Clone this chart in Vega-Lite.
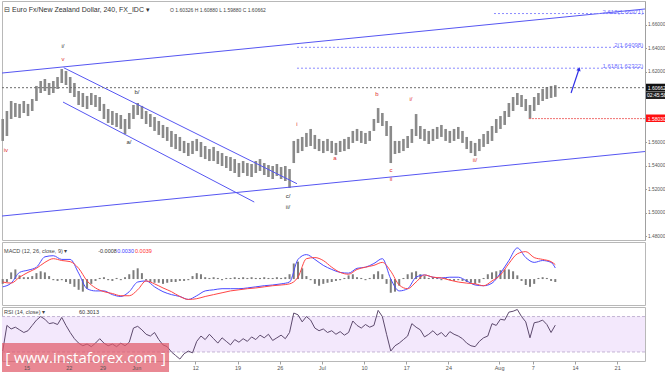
{
"$schema": "https://vega.github.io/schema/vega-lite/v6.json",
"padding": 0,
"background": "white",
"spacing": 2,
"bounds": "flush",
"resolve": {"scale": {"x": "independent", "y": "independent"}},
"config": {
  "view": {"stroke": "#b8b8b8"},
  "axis": {"grid": false, "domainColor": "#a0a0a0", "tickColor": "#a0a0a0", "labelColor": "#555555", "labelFont": "Liberation Sans", "labelFontSize": 4.8, "tickSize": 1.5, "labelPadding": 1},
  "text": {"font": "Liberation Sans"}
},
"datasets": {
"px": [
{"t":-17,"p":1.5613,"p2":1.5800,"h":-0.0013,"r":31},
{"t":-14,"p":1.5655,"p2":1.5868,"h":-0.0008,"r":60},
{"t":-11,"p":1.5800,"p2":1.5953,"h":0.0018,"r":56},
{"t":-8,"p":1.5817,"p2":1.5936,"h":0.0026,"r":58},
{"t":-5,"p":1.5808,"p2":1.5928,"h":0.0010,"r":55},
{"t":-2,"p":1.5851,"p2":1.5953,"h":0.0005,"r":52},
{"t":1,"p":1.5825,"p2":1.5928,"h":0.0005,"r":54},
{"t":4,"p":1.5868,"p2":1.5970,"h":0.0008,"r":60},
{"t":7,"p":1.5953,"p2":1.6081,"h":0.0016,"r":66},
{"t":10,"p":1.6021,"p2":1.6123,"h":0.0021,"r":70},
{"t":13,"p":1.6038,"p2":1.6140,"h":0.0018,"r":67},
{"t":16,"p":1.6004,"p2":1.6106,"h":0.0008,"r":62},
{"t":19,"p":1.6021,"p2":1.6123,"h":-0.0003,"r":63},
{"t":22,"p":1.6055,"p2":1.6157,"h":-0.0005,"r":61},
{"t":25,"p":1.6106,"p2":1.6225,"h":-0.0003,"r":69},
{"t":28,"p":1.6089,"p2":1.6208,"h":-0.0008,"r":60},
{"t":31,"p":1.6021,"p2":1.6157,"h":-0.0013,"r":52},
{"t":34,"p":1.5987,"p2":1.6106,"h":-0.0021,"r":45},
{"t":37,"p":1.5919,"p2":1.6038,"h":-0.0029,"r":40},
{"t":40,"p":1.5902,"p2":1.6021,"h":-0.0034,"r":37},
{"t":43,"p":1.5885,"p2":1.5996,"h":-0.0026,"r":39},
{"t":46,"p":1.5919,"p2":1.6021,"h":-0.0013,"r":36},
{"t":49,"p":1.5902,"p2":1.6004,"h":-0.0005,"r":40},
{"t":52,"p":1.5868,"p2":1.5987,"h":0.0003,"r":45},
{"t":55,"p":1.5800,"p2":1.5928,"h":0.0005,"r":40},
{"t":58,"p":1.5766,"p2":1.5885,"h":-0.0003,"r":37},
{"t":61,"p":1.5749,"p2":1.5868,"h":-0.0005,"r":39},
{"t":64,"p":1.5732,"p2":1.5851,"h":0.0003,"r":36},
{"t":67,"p":1.5715,"p2":1.5834,"h":-0.0003,"r":40},
{"t":70,"p":1.5672,"p2":1.5800,"h":0.0005,"r":37},
{"t":73,"p":1.5715,"p2":1.5851,"h":0.0013,"r":41},
{"t":76,"p":1.5800,"p2":1.5919,"h":0.0024,"r":57},
{"t":79,"p":1.5834,"p2":1.5936,"h":0.0029,"r":59},
{"t":82,"p":1.5800,"p2":1.5911,"h":0.0016,"r":55},
{"t":85,"p":1.5757,"p2":1.5868,"h":-0.0003,"r":50},
{"t":88,"p":1.5732,"p2":1.5842,"h":-0.0008,"r":48},
{"t":91,"p":1.5698,"p2":1.5817,"h":-0.0010,"r":52},
{"t":94,"p":1.5664,"p2":1.5783,"h":-0.0010,"r":44},
{"t":97,"p":1.5638,"p2":1.5749,"h":-0.0013,"r":38},
{"t":100,"p":1.5613,"p2":1.5732,"h":-0.0010,"r":36},
{"t":103,"p":1.5562,"p2":1.5698,"h":-0.0008,"r":30},
{"t":106,"p":1.5544,"p2":1.5672,"h":-0.0008,"r":26},
{"t":109,"p":1.5527,"p2":1.5647,"h":-0.0005,"r":22},
{"t":112,"p":1.5510,"p2":1.5613,"h":-0.0005,"r":28},
{"t":115,"p":1.5485,"p2":1.5596,"h":-0.0003,"r":31},
{"t":118,"p":1.5502,"p2":1.5613,"h":0.0008,"r":29},
{"t":121,"p":1.5527,"p2":1.5630,"h":0.0016,"r":42},
{"t":124,"p":1.5476,"p2":1.5604,"h":0.0013,"r":48},
{"t":127,"p":1.5459,"p2":1.5570,"h":0.0005,"r":44},
{"t":130,"p":1.5442,"p2":1.5544,"h":0.0003,"r":50},
{"t":133,"p":1.5442,"p2":1.5562,"h":0.0005,"r":45},
{"t":136,"p":1.5417,"p2":1.5527,"h":0.0003,"r":40},
{"t":139,"p":1.5400,"p2":1.5510,"h":-0.0003,"r":46},
{"t":142,"p":1.5383,"p2":1.5485,"h":0.0003,"r":42},
{"t":145,"p":1.5357,"p2":1.5476,"h":0.0003,"r":38},
{"t":148,"p":1.5340,"p2":1.5459,"h":0.0005,"r":44},
{"t":151,"p":1.5306,"p2":1.5425,"h":0.0003,"r":41},
{"t":154,"p":1.5340,"p2":1.5442,"h":0.0005,"r":45},
{"t":157,"p":1.5315,"p2":1.5425,"h":0.0003,"r":42},
{"t":160,"p":1.5306,"p2":1.5417,"h":0.0005,"r":47},
{"t":163,"p":1.5340,"p2":1.5442,"h":0.0003,"r":44},
{"t":166,"p":1.5357,"p2":1.5459,"h":0.0003,"r":49},
{"t":169,"p":1.5323,"p2":1.5425,"h":0.0005,"r":46},
{"t":172,"p":1.5306,"p2":1.5408,"h":0.0003,"r":50},
{"t":175,"p":1.5289,"p2":1.5400,"h":0.0003,"r":43},
{"t":178,"p":1.5315,"p2":1.5417,"h":0.0005,"r":46},
{"t":181,"p":1.5289,"p2":1.5391,"h":0.0003,"r":49},
{"t":184,"p":1.5272,"p2":1.5400,"h":0.0005,"r":45},
{"t":187,"p":1.5213,"p2":1.5374,"h":0.0013,"r":52},
{"t":190,"p":1.5425,"p2":1.5613,"h":0.0042,"r":74},
{"t":193,"p":1.5510,"p2":1.5630,"h":0.0047,"r":72},
{"t":196,"p":1.5527,"p2":1.5647,"h":0.0029,"r":64},
{"t":199,"p":1.5562,"p2":1.5681,"h":0.0008,"r":70},
{"t":202,"p":1.5570,"p2":1.5715,"h":-0.0003,"r":66},
{"t":205,"p":1.5544,"p2":1.5664,"h":-0.0013,"r":57},
{"t":208,"p":1.5527,"p2":1.5630,"h":-0.0018,"r":54},
{"t":211,"p":1.5510,"p2":1.5613,"h":-0.0013,"r":56},
{"t":214,"p":1.5527,"p2":1.5630,"h":-0.0010,"r":52},
{"t":217,"p":1.5510,"p2":1.5613,"h":-0.0008,"r":54},
{"t":220,"p":1.5493,"p2":1.5596,"h":-0.0005,"r":50},
{"t":223,"p":1.5519,"p2":1.5613,"h":-0.0003,"r":53},
{"t":226,"p":1.5527,"p2":1.5630,"h":0.0003,"r":49},
{"t":229,"p":1.5544,"p2":1.5647,"h":0.0010,"r":52},
{"t":232,"p":1.5596,"p2":1.5698,"h":0.0013,"r":65},
{"t":235,"p":1.5613,"p2":1.5715,"h":0.0005,"r":60},
{"t":238,"p":1.5596,"p2":1.5698,"h":0.0003,"r":57},
{"t":241,"p":1.5587,"p2":1.5681,"h":-0.0003,"r":61},
{"t":244,"p":1.5613,"p2":1.5698,"h":0.0003,"r":58},
{"t":247,"p":1.5698,"p2":1.5800,"h":0.0013,"r":60},
{"t":250,"p":1.5766,"p2":1.5893,"h":0.0021,"r":77},
{"t":253,"p":1.5740,"p2":1.5851,"h":0.0013,"r":70},
{"t":256,"p":1.5655,"p2":1.5783,"h":-0.0013,"r":50},
{"t":259,"p":1.5425,"p2":1.5740,"h":-0.0037,"r":31},
{"t":262,"p":1.5502,"p2":1.5613,"h":-0.0034,"r":37},
{"t":265,"p":1.5510,"p2":1.5613,"h":-0.0018,"r":40},
{"t":268,"p":1.5527,"p2":1.5630,"h":0.0003,"r":44},
{"t":271,"p":1.5553,"p2":1.5655,"h":0.0013,"r":48},
{"t":274,"p":1.5596,"p2":1.5715,"h":0.0018,"r":62},
{"t":277,"p":1.5655,"p2":1.5842,"h":0.0021,"r":58},
{"t":280,"p":1.5630,"p2":1.5740,"h":0.0013,"r":55},
{"t":283,"p":1.5613,"p2":1.5715,"h":0.0008,"r":47},
{"t":286,"p":1.5587,"p2":1.5698,"h":0.0003,"r":50},
{"t":289,"p":1.5613,"p2":1.5715,"h":0.0005,"r":54},
{"t":292,"p":1.5630,"p2":1.5732,"h":0.0003,"r":49},
{"t":295,"p":1.5647,"p2":1.5749,"h":-0.0003,"r":52},
{"t":298,"p":1.5613,"p2":1.5715,"h":0.0003,"r":47},
{"t":301,"p":1.5596,"p2":1.5698,"h":-0.0003,"r":53},
{"t":304,"p":1.5613,"p2":1.5715,"h":-0.0005,"r":50},
{"t":307,"p":1.5630,"p2":1.5732,"h":-0.0003,"r":48},
{"t":310,"p":1.5596,"p2":1.5698,"h":-0.0005,"r":45},
{"t":313,"p":1.5544,"p2":1.5647,"h":-0.0008,"r":40},
{"t":316,"p":1.5510,"p2":1.5613,"h":-0.0010,"r":37},
{"t":319,"p":1.5485,"p2":1.5596,"h":-0.0013,"r":36},
{"t":322,"p":1.5527,"p2":1.5630,"h":-0.0010,"r":42},
{"t":325,"p":1.5562,"p2":1.5672,"h":0.0003,"r":46},
{"t":328,"p":1.5587,"p2":1.5698,"h":0.0013,"r":48},
{"t":331,"p":1.5613,"p2":1.5740,"h":0.0018,"r":62},
{"t":334,"p":1.5681,"p2":1.5800,"h":0.0021,"r":60},
{"t":337,"p":1.5715,"p2":1.5825,"h":0.0024,"r":67},
{"t":340,"p":1.5749,"p2":1.5868,"h":0.0026,"r":66},
{"t":343,"p":1.5817,"p2":1.5936,"h":0.0026,"r":75},
{"t":346,"p":1.5868,"p2":1.5987,"h":0.0021,"r":76},
{"t":349,"p":1.5919,"p2":1.6021,"h":0.0010,"r":78},
{"t":352,"p":1.5902,"p2":1.6004,"h":-0.0005,"r":70},
{"t":355,"p":1.5868,"p2":1.5970,"h":-0.0016,"r":64},
{"t":358,"p":1.5800,"p2":1.5919,"h":-0.0021,"r":46},
{"t":361,"p":1.5868,"p2":1.5987,"h":-0.0013,"r":63},
{"t":364,"p":1.5919,"p2":1.6021,"h":0.0003,"r":64},
{"t":367,"p":1.5953,"p2":1.6055,"h":0.0005,"r":66},
{"t":370,"p":1.5970,"p2":1.6072,"h":0.0003,"r":61},
{"t":373,"p":1.5979,"p2":1.6081,"h":-0.0005,"r":52},
{"t":376,"p":1.5988,"p2":1.6088,"h":-0.0008,"r":60.3}
],
"mc": [
{"t":-17,"m":-0.0021,"s":-0.0008},{"t":-11,"m":-0.0011,"s":-0.0011},{"t":-5,"m":0.0018,"s":0.0005},
{"t":1,"m":0.0024,"s":0.0018},{"t":7,"m":0.0032,"s":0.0029},{"t":13,"m":0.0060,"s":0.0045},
{"t":19,"m":0.0063,"s":0.0055},{"t":25,"m":0.0053,"s":0.0050},{"t":31,"m":0.0053,"s":0.0047},
{"t":37,"m":0.0016,"s":0.0029},{"t":43,"m":-0.0026,"s":-0.0005},{"t":49,"m":-0.0032,"s":-0.0024},
{"t":55,"m":-0.0032,"s":-0.0034},{"t":61,"m":-0.0042,"s":-0.0039},{"t":67,"m":-0.0047,"s":-0.0045},
{"t":73,"m":-0.0034,"s":-0.0045},{"t":79,"m":-0.0008,"s":-0.0029},{"t":85,"m":-0.0005,"s":-0.0005},
{"t":91,"m":-0.0021,"s":-0.0013},{"t":97,"m":-0.0034,"s":-0.0024},{"t":103,"m":-0.0042,"s":-0.0034},
{"t":109,"m":-0.0047,"s":-0.0047},{"t":115,"m":-0.0055,"s":-0.0055},{"t":121,"m":-0.0045,"s":-0.0053},
{"t":127,"m":-0.0032,"s":-0.0047},{"t":133,"m":-0.0029,"s":-0.0042},{"t":139,"m":-0.0026,"s":-0.0037},
{"t":145,"m":-0.0026,"s":-0.0032},{"t":151,"m":-0.0026,"s":-0.0029},{"t":157,"m":-0.0024,"s":-0.0026},
{"t":163,"m":-0.0021,"s":-0.0024},{"t":169,"m":-0.0018,"s":-0.0021},{"t":175,"m":-0.0016,"s":-0.0018},
{"t":181,"m":-0.0013,"s":-0.0016},{"t":187,"m":-0.0008,"s":-0.0013},{"t":193,"m":0.0053,"s":0.0005},
{"t":199,"m":0.0066,"s":0.0055},{"t":205,"m":0.0053,"s":0.0058},{"t":211,"m":0.0037,"s":0.0050},
{"t":217,"m":0.0026,"s":0.0032},{"t":223,"m":0.0018,"s":0.0018},{"t":229,"m":0.0016,"s":0.0013},
{"t":235,"m":0.0029,"s":0.0026},{"t":241,"m":0.0032,"s":0.0032},{"t":247,"m":0.0042,"s":0.0037},
{"t":253,"m":0.0055,"s":0.0045},{"t":259,"m":0.0000,"s":0.0021},{"t":265,"m":-0.0032,"s":-0.0016},
{"t":271,"m":-0.0026,"s":-0.0026},{"t":277,"m":0.0005,"s":-0.0008},{"t":283,"m":0.0011,"s":0.0011},
{"t":289,"m":0.0005,"s":0.0005},{"t":295,"m":0.0003,"s":0.0003},{"t":301,"m":0.0005,"s":-0.0003},
{"t":307,"m":0.0005,"s":-0.0008},{"t":313,"m":-0.0005,"s":-0.0011},{"t":319,"m":-0.0016,"s":-0.0013},
{"t":325,"m":-0.0018,"s":-0.0018},{"t":331,"m":-0.0011,"s":-0.0005},{"t":337,"m":0.0016,"s":0.0011},
{"t":343,"m":0.0050,"s":0.0042},{"t":349,"m":0.0084,"s":0.0068},{"t":355,"m":0.0058,"s":0.0074},
{"t":361,"m":0.0045,"s":0.0058},{"t":367,"m":0.0050,"s":0.0053},{"t":373,"m":0.0045,"s":0.0047},
{"t":376,"m":0.0030,"s":0.0039}
],
"lines": [
{"k":"ch","t":-17.5,"p":1.6191,"t2":439.8,"p2":1.6736},
{"k":"ch","t":-17.5,"p":1.4974,"t2":439.8,"p2":1.5523},
{"k":"ch","t":26.4,"p":1.6236,"t2":192.3,"p2":1.5249},
{"k":"ch","t":25.9,"p":1.5944,"t2":161.9,"p2":1.5093},
{"k":"fib","t":332.4,"p":1.66971,"t2":439.8,"p2":1.66971},
{"k":"fib","t":192.3,"p":1.64098,"t2":439.8,"p2":1.64098},
{"k":"fib","t":192.3,"p":1.62322,"t2":439.8,"p2":1.62322},
{"k":"cur","t":-17.5,"p":1.60662,"t2":439.8,"p2":1.60662},
{"k":"red","t":357.3,"p":1.5803,"t2":439.8,"p2":1.5803},
{"k":"arrow","t":387.2,"p":1.6021,"t2":392.9,"p2":1.6225}
],
"wl": [
{"t":25.9,"p":1.6421,"txt":"i/","c":"k"},
{"t":25.9,"p":1.6310,"txt":"v","c":"r"},
{"t":78.5,"p":1.6030,"txt":"b/","c":"k"},
{"t":72.8,"p":1.5604,"txt":"a/","c":"k"},
{"t":-14.7,"p":1.5536,"txt":"iv","c":"r"},
{"t":185.9,"p":1.5145,"txt":"c/","c":"k"},
{"t":185.9,"p":1.5051,"txt":"ii/","c":"k"},
{"t":192.3,"p":1.5757,"txt":"i","c":"r"},
{"t":219.3,"p":1.5468,"txt":"a","c":"r"},
{"t":249.2,"p":1.6013,"txt":"b","c":"r"},
{"t":259.2,"p":1.5366,"txt":"c","c":"r"},
{"t":259.2,"p":1.5289,"txt":"ii","c":"r"},
{"t":273.4,"p":1.5970,"txt":"i/","c":"r"},
{"t":318.9,"p":1.5451,"txt":"ii/","c":"r"}
],
"box": [
{"t":440.5,"t2":456,"p":1.6036,"p2":1.6100,"tc":448.2,"pc":1.60662,"f":"#111111","txt":"1.60662"},
{"t":440.5,"t2":456,"p":1.5970,"p2":1.6034,"tc":448.2,"pc":1.6002,"f":"#222222","txt":"02:45:58"},
{"t":440.5,"t2":456,"p":1.5774,"p2":1.5838,"tc":448.2,"pc":1.5803,"f":"#ff1010","txt":"1.58030"}
]
},
"vconcat": [
{
 "width": 643, "height": 239,
 "encoding": {
   "x": {"field": "t", "type": "quantitative", "scale": {"domain": [-17.5, 439.8], "nice": false, "zero": false}, "axis": null},
   "y": {"field": "p", "type": "quantitative", "scale": {"domain": [1.477, 1.6804], "nice": false, "zero": false}, "axis": {"orient": "right", "values": [1.48, 1.5, 1.52, 1.54, 1.56, 1.62, 1.64, 1.66], "format": ".5f", "title": null}}
 },
 "layer": [
  {"data": {"name": "px"}, "mark": {"type": "rule", "color": "#8a8a8a", "strokeWidth": 2.6}, "encoding": {"y2": {"field": "p2"}}},
  {"data": {"name": "lines"}, "transform": [{"filter": "datum.k == 'ch'"}], "mark": {"type": "rule", "color": "#5656f2", "strokeWidth": 1, "clip": true}, "encoding": {"x2": {"field": "t2"}, "y2": {"field": "p2"}}},
  {"data": {"name": "lines"}, "transform": [{"filter": "datum.k == 'fib'"}], "mark": {"type": "rule", "color": "#8a8aff", "strokeWidth": 1, "strokeDash": [2, 2]}, "encoding": {"x2": {"field": "t2"}, "y2": {"field": "p2"}}},
  {"data": {"name": "lines"}, "transform": [{"filter": "datum.k == 'cur'"}], "mark": {"type": "rule", "color": "#6a6a6a", "strokeWidth": 1, "strokeDash": [2, 2]}, "encoding": {"x2": {"field": "t2"}, "y2": {"field": "p2"}}},
  {"data": {"name": "lines"}, "transform": [{"filter": "datum.k == 'red'"}], "mark": {"type": "rule", "color": "#f07070", "strokeWidth": 1, "strokeDash": [2, 1]}, "encoding": {"x2": {"field": "t2"}, "y2": {"field": "p2"}}},
  {"data": {"name": "lines"}, "transform": [{"filter": "datum.k == 'arrow'"}], "mark": {"type": "rule", "color": "#3030e6", "strokeWidth": 1.2}, "encoding": {"x2": {"field": "t2"}, "y2": {"field": "p2"}}},
  {"data": {"values": [{"t": 392.9, "p": 1.6225}]}, "mark": {"type": "point", "shape": "triangle-up", "filled": true, "color": "#3030e6", "size": 20, "angle": 18, "opacity": 1}},
  {"data": {"values": [{"t": 438.5, "p": 1.66971, "txt": "2.618(1.66971)"}, {"t": 438.5, "p": 1.64098, "txt": "2(1.64098)"}, {"t": 438.5, "p": 1.62322, "txt": "1.618(1.62322)"}]}, "mark": {"type": "text", "align": "right", "baseline": "bottom", "dy": 1, "fontSize": 6, "color": "#6f6fff"}, "encoding": {"text": {"field": "txt"}}},
  {"data": {"name": "wl"}, "mark": {"type": "text", "fontSize": 6, "baseline": "middle", "align": "center"}, "encoding": {"text": {"field": "txt"}, "color": {"field": "c", "type": "nominal", "scale": {"domain": ["r", "k"], "range": ["#e02c2c", "#333333"]}, "legend": null}}},
  {"data": {"values": [{"t": -16, "p": 1.6727, "txt": "⊟ Euro Fx/New Zealand Dollar, 240, FX_IDC ▾"}]}, "mark": {"type": "text", "align": "left", "baseline": "middle", "fontSize": 7, "color": "#333333"}, "encoding": {"text": {"field": "txt"}}},
  {"data": {"values": [{"t": 102, "p": 1.6727, "txt": "O 1.60326  H 1.60880  L 1.59880  C 1.60662"}]}, "mark": {"type": "text", "align": "left", "baseline": "middle", "fontSize": 5, "color": "#444444"}, "encoding": {"text": {"field": "txt"}}},
  {"data": {"name": "box"}, "mark": {"type": "rect"}, "encoding": {"x2": {"field": "t2"}, "y2": {"field": "p2"}, "fill": {"field": "f", "type": "nominal", "scale": null}}},
  {"data": {"name": "box"}, "mark": {"type": "text", "color": "white", "fontSize": 5, "baseline": "middle", "align": "center"}, "encoding": {"x": {"field": "tc", "type": "quantitative", "scale": {"domain": [-17.5, 439.8], "nice": false, "zero": false}}, "y": {"field": "pc", "type": "quantitative", "scale": {"domain": [1.477, 1.6804], "nice": false, "zero": false}}, "text": {"field": "txt"}}}
 ]
},
{
 "width": 643, "height": 63,
 "encoding": {
   "x": {"field": "t", "type": "quantitative", "scale": {"domain": [-17.5, 439.8], "nice": false, "zero": false}, "axis": null}
 },
 "layer": [
  {"data": {"name": "px"}, "mark": {"type": "rule", "color": "#7c7c7c", "strokeWidth": 2}, "encoding": {"y": {"field": "h", "type": "quantitative", "scale": {"domain": [-0.007, 0.01], "nice": false, "zero": false}, "axis": {"orient": "right", "values": [-0.005, 0, 0.005], "format": ".4f", "title": null}}, "y2": {"datum": 0}}},
  {"data": {"name": "mc"}, "mark": {"type": "line", "color": "#4a4aff", "strokeWidth": 1, "interpolate": "monotone"}, "encoding": {"y": {"field": "m", "type": "quantitative", "scale": {"domain": [-0.007, 0.01], "nice": false, "zero": false}, "axis": null}}},
  {"data": {"name": "mc"}, "mark": {"type": "line", "color": "#ff4545", "strokeWidth": 1, "interpolate": "monotone"}, "encoding": {"y": {"field": "s", "type": "quantitative", "scale": {"domain": [-0.007, 0.01], "nice": false, "zero": false}, "axis": null}}},
  {"data": {"values": [{"t": -16, "v": 0.0076, "txt": "MACD (12, 26, close, 9) ▾", "c": "#444444"}, {"t": 50.9, "v": 0.0076, "txt": "-0.0008", "c": "#333333"}, {"t": 64.4, "v": 0.0076, "txt": "0.0030", "c": "#3c3cff"}, {"t": 77.1, "v": 0.0076, "txt": "0.0039", "c": "#ff3030"}]}, "mark": {"type": "text", "align": "left", "baseline": "middle", "fontSize": 5.5}, "encoding": {"y": {"field": "v", "type": "quantitative", "scale": {"domain": [-0.007, 0.01], "nice": false, "zero": false}, "axis": null}, "text": {"field": "txt"}, "color": {"field": "c", "type": "nominal", "scale": null}}}
 ]
},
{
 "width": 643, "height": 54,
 "encoding": {
   "x": {"field": "t", "type": "quantitative", "scale": {"domain": [-17.5, 439.8], "nice": false, "zero": false}, "axis": {"orient": "bottom", "values": [0, 30, 54, 78, 120, 150, 180, 210, 240, 270, 300, 336, 360, 390, 420], "labelExpr": "['15','22','29','Jun','12','19','26','Jul','10','17','24','Aug','7','14','21'][indexof([0,30,54,78,120,150,180,210,240,270,300,336,360,390,420], datum.value)]", "title": null, "domain": false, "tickSize": 3, "labelFontSize": 5.5, "labelPadding": 1, "zindex": 1}},
   "y": {"field": "p", "type": "quantitative", "scale": {"domain": [19.8, 80.8], "nice": false, "zero": false}, "axis": {"orient": "right", "values": [20, 40, 60, 80], "format": ".4f", "title": null}}
 },
 "layer": [
  {"data": {"values": [{"t": -17.5, "t2": 439.8, "p": 30, "p2": 70}]}, "mark": {"type": "rect", "color": "#f3e8fc"}, "encoding": {"x2": {"field": "t2"}, "y2": {"field": "p2"}}},
  {"data": {"values": [{"t": -17.5, "t2": 439.8, "p": 30, "p2": 30}, {"t": -17.5, "t2": 439.8, "p": 70, "p2": 70}]}, "mark": {"type": "rule", "color": "#c4b4d4", "strokeDash": [3, 2]}, "encoding": {"x2": {"field": "t2"}, "y2": {"field": "p2"}}},
  {"data": {"name": "px"}, "mark": {"type": "line", "color": "#5d4a6d", "strokeWidth": 1}, "encoding": {"y": {"field": "r", "type": "quantitative", "scale": {"domain": [19.8, 80.8], "nice": false, "zero": false}, "axis": null}}},
  {"data": {"values": [{"t": -16, "p": 75.2, "txt": "RSI (14, close) ▾", "c": "#444444"}, {"t": 37.3, "p": 75.2, "txt": "60.3013", "c": "#333333"}]}, "mark": {"type": "text", "align": "left", "baseline": "middle", "fontSize": 5.5}, "encoding": {"text": {"field": "txt"}, "color": {"field": "c", "type": "nominal", "scale": null}}},
  {"data": {"values": [{"t": -17.5, "t2": 101.3, "p": 6.2, "p2": 40.1}]}, "mark": {"type": "rect", "color": "#e05a6a", "opacity": 0.72}, "encoding": {"x2": {"field": "t2"}, "y2": {"field": "p2"}}},
  {"data": {"values": [{"t": 42, "p": 23.2, "txt": "[  www.instaforex.com  ]"}]}, "mark": {"type": "text", "color": "white", "fontSize": 15, "font": "Open Sans", "align": "center", "baseline": "middle"}, "encoding": {"text": {"field": "txt"}}}
 ]
}
]
}
